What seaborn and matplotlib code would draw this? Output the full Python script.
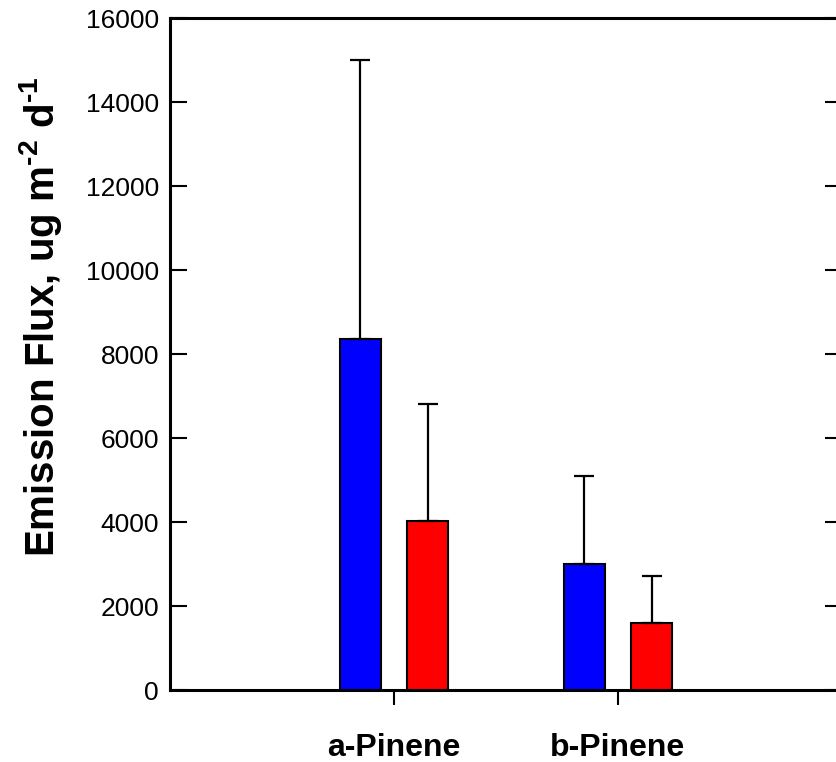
import matplotlib
matplotlib.use("Agg")
import matplotlib.pyplot as plt
import seaborn as sns
import pandas as pd
import numpy as np

compounds = ["a-Pinene", "b-Pinene"]
series = ["Series 1", "Series 2"]
series1_mean = [8350, 3000]
series1_err = [6650, 2100]
series2_mean = [4030, 1600]
series2_err = [2770, 1120]
yticks = [0, 2000, 4000, 6000, 8000, 10000, 12000, 14000, 16000]

df = pd.DataFrame({
    "compound": compounds * 2,
    "series": [series[0]] * 2 + [series[1]] * 2,
    "flux": series1_mean + series2_mean,
})
errs = {series[0]: series1_err, series[1]: series2_err}

sns.set_style("ticks")
plt.rcParams["font.family"] = ["Liberation Sans", "DejaVu Sans"]
plt.rcParams["mathtext.fontset"] = "custom"
plt.rcParams["mathtext.rm"] = "Liberation Sans:bold"
plt.rcParams["mathtext.bf"] = "Liberation Sans:bold"
for k in ["text.color", "axes.labelcolor", "xtick.color", "ytick.color", "axes.edgecolor"]:
    plt.rcParams[k] = "black"

fig = plt.figure(figsize=(8.37, 7.62), dpi=100)
ax = fig.add_axes([170 / 837, 72 / 762, 672 / 837, 672 / 762])

sns.barplot(data=df, x="compound", y="flux", hue="series", order=compounds,
            hue_order=series, palette=["#0000ff", "#ff0000"], width=0.6, gap=0.39,
            errorbar=None, edgecolor="black", linewidth=1.5, legend=False, ax=ax,
            saturation=1)

for cont, s in zip(ax.containers, series):
    xs = [b.get_x() + b.get_width() / 2 for b in cont]
    hs = [b.get_height() for b in cont]
    ax.errorbar(xs, hs, yerr=[np.zeros(len(hs)), errs[s]], fmt="none",
                ecolor="black", elinewidth=1.6, capsize=7.5, capthick=1.6, zorder=1)

ax.set_xlim(-1, 2)
ax.set_ylim(0, 16000)
ax.set_yticks(yticks)
ax.set_yticklabels([str(v) for v in yticks], fontsize=19)
ax.set_xticks([0, 1])
ax.set_xticklabels(compounds, fontsize=23, fontweight="bold")
ax.set_xlabel("")
ax.set_ylabel(r"Emission Flux, ug m$^{\text{-2}}$ d$^{\text{-1}}$",
              fontsize=29, fontweight="bold")
ax.yaxis.set_label_coords(-0.157, 0.555)

for sp in ax.spines.values():
    sp.set_linewidth(2.2)
    sp.set_color("black")
    sp.set_visible(True)
ax.tick_params(axis="y", direction="in", length=12, width=1.5, right=True, pad=8)
ax.tick_params(axis="x", direction="out", length=11, width=1.5, pad=20, top=False)

fig.savefig("out.png", dpi=100)
